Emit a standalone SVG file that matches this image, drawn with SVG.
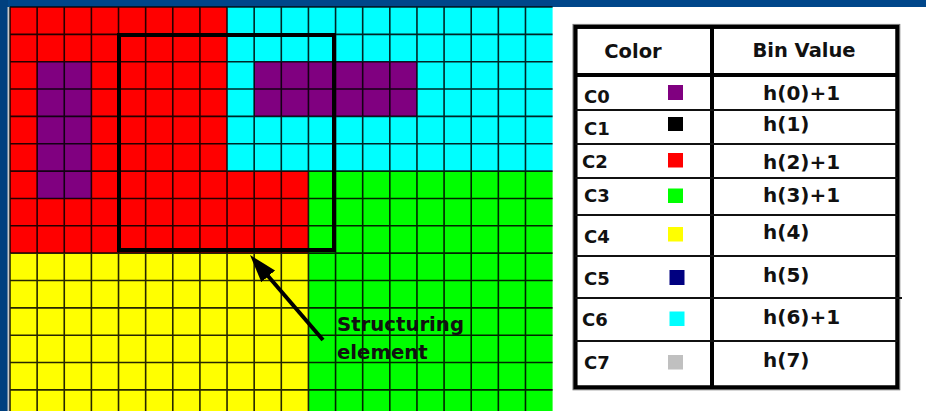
<svg xmlns="http://www.w3.org/2000/svg" width="926" height="411" viewBox="0 0 926 411">
<defs>
<style>
.t{font-family:"DejaVu Sans","Liberation Sans",sans-serif;font-weight:bold;fill:#111}
.hd{font-size:19.5px;text-anchor:middle}
.lb{font-size:18px}
.hv{font-size:20px}
.ann{font-size:19.7px}
.thin{stroke:#111;stroke-width:2}
.grid{stroke:#000;stroke-width:1.6;stroke-opacity:0.85;fill:none}
</style>
<marker id="ah" markerUnits="userSpaceOnUse" viewBox="0 0 28 20" refX="9.6" refY="10" markerWidth="28" markerHeight="20" orient="auto">
<path d="M0,1 L28,10 L0,19 Z" fill="#000"/>
</marker>
</defs>
<rect x="0" y="0" width="926" height="411" fill="#fff"/>
<rect x="0" y="0" width="926" height="7" fill="#00468a"/>
<rect x="0" y="0" width="8" height="411" fill="#00407f"/>
<rect x="7.5" y="7" width="1.8" height="404" fill="#c8c8c8"/>

<g id="grid">
<rect x="10" y="7" width="217.04" height="164.1" fill="#ff0000"/>
<rect x="10" y="171.1" width="298.43" height="82.05" fill="#ff0000"/>
<rect x="227.04" y="7" width="325.56" height="164.1" fill="#00ffff"/>
<rect x="308.43" y="171.1" width="244.17" height="239.9" fill="#00ff00"/>
<rect x="10" y="253.15" width="298.43" height="157.85" fill="#ffff00"/>
<rect x="37.13" y="61.7" width="54.26" height="136.75" fill="#800080"/>
<rect x="254.17" y="61.7" width="162.78" height="54.7" fill="#800080"/>
<path class="grid" d="M10,7V411 M37.13,7V411 M64.26,7V411 M91.39,7V411 M118.52,7V411 M145.65,7V411 M172.78,7V411 M199.91,7V411 M227.04,7V411 M254.17,7V411 M281.3,7V411 M308.43,7V411 M335.56,7V411 M362.69,7V411 M389.82,7V411 M416.95,7V411 M444.08,7V411 M471.21,7V411 M498.34,7V411 M525.47,7V411
M10,7H552.6 M10,34.35H552.6 M10,61.7H552.6 M10,89.05H552.6 M10,116.4H552.6 M10,143.75H552.6 M10,171.1H552.6 M10,198.45H552.6 M10,225.8H552.6 M10,253.15H552.6 M10,280.5H552.6 M10,307.85H552.6 M10,335.2H552.6 M10,362.55H552.6 M10,389.9H552.6"/>
</g>

<g id="structuring-element">
<rect x="119" y="35" width="215" height="215" fill="none" stroke="#000" stroke-width="4"/>
</g>

<g id="label-structuring">
<text class="t ann" x="337" y="331">Structuring</text>
<text class="t ann" x="337" y="359">element</text>
</g>

<g id="connectors">
<line x1="323" y1="340" x2="262" y2="269" stroke="#000" stroke-width="4" marker-end="url(#ah)"/>
</g>

<g id="table">
<rect x="575.3" y="26.7" width="322.2" height="360.8" fill="#fff" stroke="#000" stroke-width="4.5"/>
<rect x="573" y="24.4" width="326.8" height="365.4" fill="none" stroke="#777" stroke-width="1"/>
<line x1="712" y1="26.7" x2="712" y2="387.5" stroke="#000" stroke-width="4"/>
<line x1="575.3" y1="75" x2="897.5" y2="75" stroke="#000" stroke-width="4"/>
<line class="thin" x1="575.3" y1="110" x2="897.5" y2="110"/>
<line class="thin" x1="575.3" y1="144" x2="897.5" y2="144"/>
<line class="thin" x1="575.3" y1="178" x2="897.5" y2="178"/>
<line class="thin" x1="575.3" y1="215" x2="897.5" y2="215"/>
<line class="thin" x1="575.3" y1="256" x2="897.5" y2="256"/>
<line class="thin" x1="575.3" y1="298" x2="902" y2="298"/>
<line class="thin" x1="575.3" y1="341" x2="897.5" y2="341"/>
<text class="t hd" x="633" y="58">Color</text>
<text class="t hd" x="804" y="57">Bin Value</text>
</g>

<g id="row-c0"><text class="t lb" x="584" y="103">C0</text><rect x="668" y="85" width="15" height="15" fill="#800080"/><text class="t hv" x="763" y="100">h(0)+1</text></g>
<g id="row-c1"><text class="t lb" x="584" y="135">C1</text><rect x="668" y="117" width="15" height="14" fill="#000"/><text class="t hv" x="763" y="131">h(1)</text></g>
<g id="row-c2"><text class="t lb" x="582" y="168">C2</text><rect x="668" y="153" width="15" height="14.5" fill="#ff0000"/><text class="t hv" x="763" y="169">h(2)+1</text></g>
<g id="row-c3"><text class="t lb" x="584" y="202">C3</text><rect x="668" y="188.5" width="15" height="14.5" fill="#00ff00"/><text class="t hv" x="763" y="202">h(3)+1</text></g>
<g id="row-c4"><text class="t lb" x="584" y="243">C4</text><rect x="668" y="227" width="15" height="14.5" fill="#ffff00"/><text class="t hv" x="763" y="239">h(4)</text></g>
<g id="row-c5"><text class="t lb" x="584" y="285">C5</text><rect x="669.5" y="270" width="15" height="15" fill="#000080"/><text class="t hv" x="763" y="282">h(5)</text></g>
<g id="row-c6"><text class="t lb" x="582" y="326">C6</text><rect x="669.5" y="311.5" width="15" height="14.5" fill="#00ffff"/><text class="t hv" x="763" y="324">h(6)+1</text></g>
<g id="row-c7"><text class="t lb" x="584" y="369">C7</text><rect x="668" y="355" width="15" height="14.5" fill="#c0c0c0"/><text class="t hv" x="763" y="367">h(7)</text></g>
</svg>
